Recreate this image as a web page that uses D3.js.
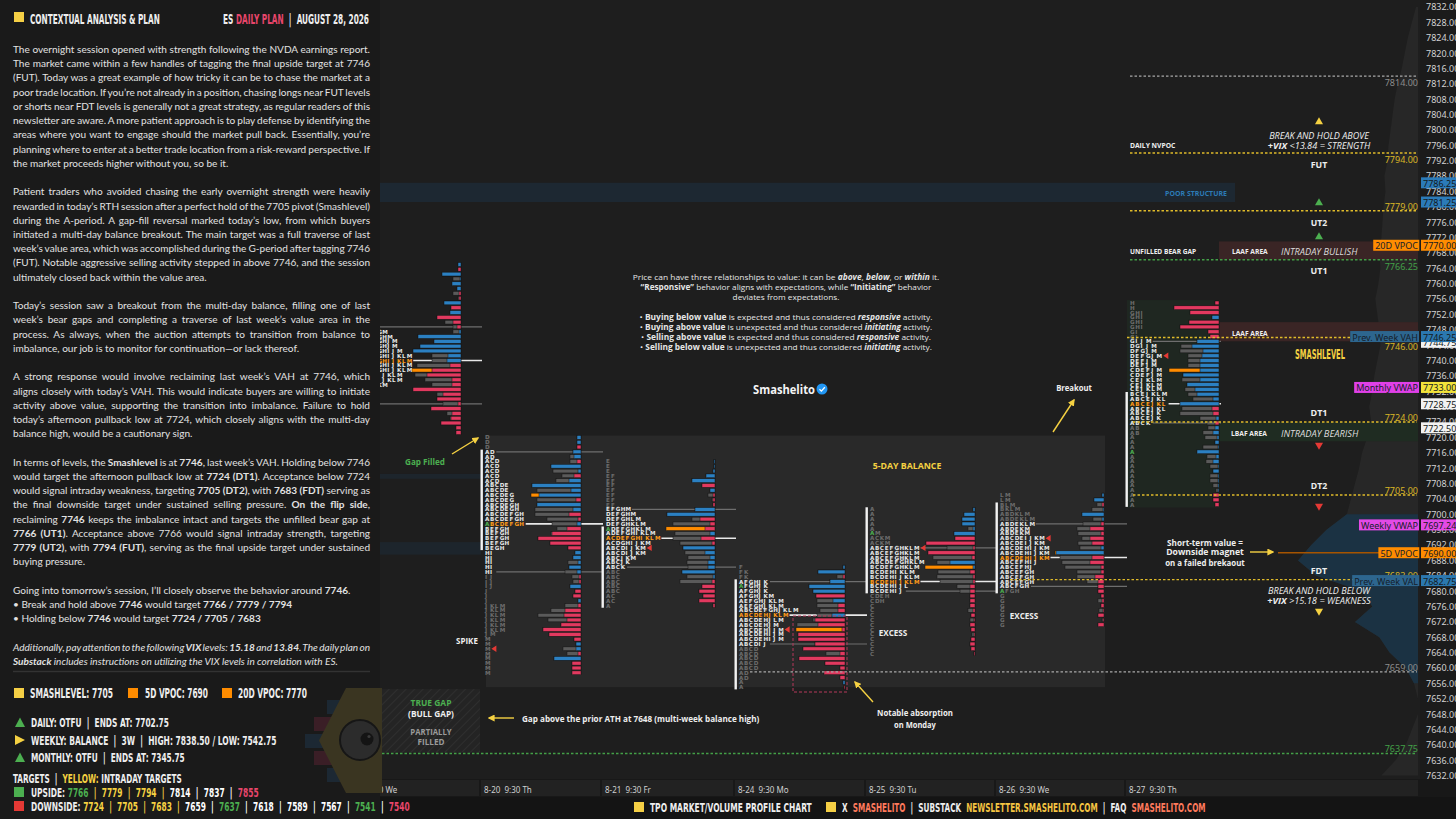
<!DOCTYPE html>
<html>
<head>
<meta charset="utf-8">
<script src="https://cdn.jsdelivr.net/npm/d3@7"></script>
<style>
  body { margin: 0; background: #1a1a1a; overflow: hidden; }
  svg { display: block; }
</style>
</head>
<body>
<svg id="chart" width="1456" height="819"></svg>
<script>
// ---------------- data ----------------
const sessions = ["8-19", "8-20", "8-21", "8-24", "8-25", "8-26", "8-27"];
const sessionDays = ["We", "Th", "Fr", "Mo", "Tu", "We", "Th"];
const tpoLetters = ["A", "B", "C", "D", "E", "F", "G", "H", "I", "J", "K", "L", "M"];
const rowSize = 1.25;

const sessionTop   = [7765, 7720, 7713.75, 7686.25, 7701.25, 7705, 7755];
const sessionPoc   = [7740, 7697.5, 7693.75, 7673.75, 7682.5, 7688.75, 7728.75];
const sessionVah   = [7748.75, 7716.25, 7701.25, 7682.5, 7691.25, 7697.5, 7745];
const sessionVal   = [7728.75, 7685, 7686.25, 7666.25, 7680, 7681.25, 7723.75];
const sessionOpen  = [null, 7697.5, 7696.25, 7681.25, 7695, 7680, 7716.25];
const sessionClose = [7732.5, 7665, 7691.25, 7670, 7691.25, 7693.75, 7741.25];

// period ranges [high, low], A..M
const ranges0819 = [[7765,7737.5],[7762.5,7735],[7760,7737.5],[7755,7731.25],[7752.5,7727.5],[7750,7723.75],[7747.5,7721.25],[7746.25,7735],[7742.5,7731.25],[7745,7733.75],[7741.25,7733.75],[7741.25,7735],[7747.5,7733.75]];
const ranges0820 = [[7716.25,7697.5],[7707.5,7691.25],[7713.75,7697.5],[7720,7697.5],[7707.5,7691.25],[7700,7692.5],[7705,7691.25],[7702.5,7685],[7690,7681.25],[7683.75,7668.75],[7676.25,7670],[7676.25,7670],[7676.25,7658.75]];
const ranges0821 = [[7696.25,7676.25],[7691.25,7680],[7693.75,7677.5],[7700,7690],[7713.75,7693.75],[7710,7693.75],[7701.25,7692.5],[7701.25,7692.5],[7695,7690],[7692.5,7687.5],[7697.5,7686.25],[7698.75,7693.75],[7701.25,7688.75]];
const ranges0824 = [[7682.5,7655],[7675,7660],[7675,7660],[7675,7657.5],[7677.5,7667.5],[7686.25,7675],[7682.5,7675],[7682.5,7667.5],[7670,7666.25],[7682.5,7666.25],[7685,7673.75],[7677.5,7672.5],[7678.75,7667.5]];
const ranges0825 = [[7701.25,7687.5],[7691.25,7680],[7693.75,7663.75],[7687.5,7677.5],[7691.25,7678.75],[7691.25,7686.25],[7691.25,7686.25],[7691.25,7677.5],[7685,7680],[7683.75,7680],[7693.75,7682.5],[7691.25,7681.25],[7695,7682.5]];
const ranges0826 = [[7700,7680],[7702.5,7681.25],[7693.75,7681.25],[7700,7688.75],[7698.75,7682.5],[7687.5,7680],[7685,7671.25],[7691.25,7680],[7693.75,7687.5],[7693.75,7686.25],[7701.25,7688.75],[7705,7697.5],[7705,7688.75]];
const ranges0827 = [[7730,7702.5],[7731.25,7721.25],[7737.5,7723.75],[7743.75,7736.25],[7741.25,7725],[7742.5,7736.25],[7752.5,7741.25],[7755,7748.75],[7752.5,7743.75],[7745,7725],[7735,7723.75],[7735,7727.5],[7745,7731.25]];

// volume per row (top to bottom) and delta per row
const vol0819 = [3,3,19,8,9,4,8,3,17,10,11,24,16,8,8,43,27,41,48,29,29,44,49,46,36,29,48,24,24,18,30,14,11,20,5,5];
const dlt0819 = [3,-3,19,1,9,4,-2,-2,17,-10,11,-24,-8,-4,2,43,27,41,48,13,14,-11,-29,-34,-9,-9,-48,-18,-24,-3,-30,-9,-10,-20,-5,-5];
const vol0820 = [4,4,4,8,11,11,30,28,19,25,49,44,50,44,44,46,46,34,29,24,30,43,31,13,6,8,13,12,16,9,8,11,6,8,3,16,30,43,33,20,38,32,7,5,18,14,27,9,9,9];
const dlt0820 = [4,4,-4,8,7,-4,30,3,-7,12,49,10,42,-5,44,8,-12,-3,4,-14,-29,-43,-31,-13,6,8,3,12,4,-2,-2,11,-6,-8,3,-3,-16,-17,-14,-20,-38,-32,-7,5,5,-3,27,-9,-9,-9];
const vol0821 = [1,1,2,9,23,13,5,7,3,2,20,48,23,42,49,40,42,35,32,30,27,28,27,33,28,35,13,16,12,16,2];
const dlt0821 = [1,1,2,9,23,-13,5,-2,-2,-2,20,48,-15,-5,-10,5,-14,-3,32,10,5,7,7,33,2,-3,-13,-16,-12,-16,-2];
const vol0824 = [2,27,8,15,36,32,29,28,28,25,28,32,48,49,47,47,30,42,19,46,20,5,21,5,2,1];
const dlt0824 = [2,27,-2,15,36,32,-29,12,-7,-7,13,-30,-27,-3,-47,-47,-30,-42,-5,-46,-20,-5,-21,-5,2,-1];
const vol0825 = [2,11,13,13,7,21,20,49,28,47,42,38,50,37,38,35,18,15,5,5,5,7,4,5,5,4,3,4,5,4,1];
const dlt0825 = [2,11,13,13,2,21,-20,-49,-2,-47,-3,25,2,-5,-2,-2,-5,-5,-5,-5,-5,-2,-4,-1,-5,-4,-1,-4,-5,-4,-1];
const vol0826 = [2,10,7,12,22,11,21,27,26,22,26,24,49,44,42,39,27,27,17,6,6,3,6,3,5,6,2,6];
const dlt0826 = [2,10,-2,1,22,2,-3,-14,-3,-14,-12,3,48,-12,-14,-3,-3,-9,-6,-6,-6,-3,-2,-3,-1,-6,-1,-6];
const vol0827 = [4,45,29,7,30,39,11,9,22,38,39,31,31,31,50,36,37,32,34,31,26,39,37,39,19,12,11,16,14,4,16,22,12,13,9,6,9,9,6,3,6,6,4];
const dlt0827 = [-4,-45,-29,7,-30,-39,-11,-9,22,27,16,17,19,19,19,36,19,32,24,22,6,39,-7,-6,3,-4,4,6,2,4,1,22,3,6,1,6,1,1,1,1,-6,-6,-4];

const sessionRanges = [ranges0819, ranges0820, ranges0821, ranges0824, ranges0825, ranges0826, ranges0827];
const sessionVol = [vol0819, vol0820, vol0821, vol0824, vol0825, vol0826, vol0827];
const sessionDelta = [dlt0819, dlt0820, dlt0821, dlt0824, dlt0825, dlt0826, dlt0827];

// composite volume profile (right side), 4-pt bins from top
const compPrices = [7832,7828,7824,7820,7816,7812,7808,7804,7800,7796,7792,7788,7784,7780,7776,7772,7768,7764,7760,7756,7752,7748,7744,7740,7736,7732,7728,7724,7720,7716,7712,7708,7704,7700,7696,7692,7688,7684,7680,7676,7672,7668,7664,7660,7656,7652,7648,7644,7640,7636,7632];
const compVol = [2,6,10,13,16,20,23,25,27,29,30,33,32,34,35,36,38,37,39,42,40,38,37,40,43,45,48,46,50,55,58,62,66,70,90,105,118,100,55,45,62,38,28,12,4,0,0,6,12,22,36];
const compValueArea = [7700, 7656];

// key levels
const levelPrices = [7814, 7794, 7779, 7766.25, 7746, 7724, 7705, 7683, 7659, 7637.75];
const levelKinds  = ["major", "target", "target", "gap", "target", "target", "target", "target", "major", "gap"];

// zones
const poorHigh = [7786.25, 7710.5, 7692.75];
const poorLow  = [7781.25, 7709.25, 7689.5];
const laafHigh = [7771, 7750];
const laafLow  = [7766.25, 7745];
const lbafHigh = [7724];
const lbafLow  = [7719];
const balanceRange = [7720.5, 7655];
const trueGapRange = [7654.5, 7638];
const vpoc5d = 7690;

// price axis marks
const markPrices = [7786.25, 7781.25, 7770, 7744.75, 7746.25, 7733, 7728.75, 7722.5, 7697.24, 7690, 7682.75];
const markKinds  = ["poor", "poor", "vpoc", "white", "pweek", "mvwap", "white", "white", "wvwap", "vpoc", "pweek"];
const markTags   = [null, null, "20D VPOC", null, "Prev. Week VAH", "Monthly VWAP", null, null, "Weekly VWAP", "5D VPOC", "Prev. Week VAL"];
const priceTicks = d3.range(7632, 7836, 4);

// targets
const upsideTargets   = [7766, 7779, 7794, 7814, 7837, 7855];
const upsideKinds     = ["gap", "intra", "intra", "std", "std", "final"];
const downsideTargets = [7724, 7705, 7683, 7659, 7637, 7618, 7589, 7567, 7541, 7540];
const downsideKinds   = ["intra", "intra", "intra", "std", "gap", "std", "std", "std", "gap", "final"];

// ---------------- layout ----------------
const W = 1456, H = 819;
const FC = "'Liberation Sans Narrow','DejaVu Sans Condensed',sans-serif";
const FB = "Lato,'Open Sans',sans-serif";
const FA = "'Open Sans','Noto Sans',sans-serif";
const FX = "'Noto Sans','Open Sans',sans-serif";
const YEL = "#f5d142", GRN = "#4caf50", PNK = "#e8466b", ORG = "#ff8c00";

const y = d3.scaleLinear().domain([7632, 7832]).range([775.6, 7]);
const dayX = d3.scaleOrdinal().domain(sessions).range([345, 482, 603, 736, 867, 997, 1127]);
const profileRight = d3.scaleOrdinal().domain(sessions).range([461, 581, 715, 845, 975, 1104, 1219]);
const letterGap = d3.scaleOrdinal().domain(sessions).range([4.9, 4.9, 4.9, 4.9, 4.9, 4.9, 5.3]);
const xVol = d3.scaleLinear().domain([0, 50]).range([0, 50]);
const xComp = d3.scaleLinear().domain([0, 120]).range([0, 122]);
const fmt = d3.format(".2f");

const svg = d3.select("#chart");
const defs = svg.append("defs");
defs.append("clipPath").attr("id", "plotClip")
  .append("rect").attr("x", 380).attr("y", 0).attr("width", 1040).attr("height", 779);
const pat = defs.append("pattern").attr("id", "hatch").attr("patternUnits", "userSpaceOnUse")
  .attr("width", 6).attr("height", 6).attr("patternTransform", "rotate(45)");
pat.append("rect").attr("width", 6).attr("height", 6).attr("fill", "#242424");
pat.append("line").attr("x1", 0).attr("y1", 0).attr("x2", 0).attr("y2", 6).attr("stroke", "#2f2f2f").attr("stroke-width", 2);
defs.append("marker").attr("id", "arrY").attr("viewBox", "0 0 10 10").attr("refX", 8).attr("refY", 5)
  .attr("markerWidth", 5).attr("markerHeight", 5).attr("orient", "auto")
  .append("path").attr("d", "M0,0L10,5L0,10Z").attr("fill", YEL);

function fit(node, w, x) {
  const bw = node.getBBox().width;
  if (!bw || !w) return;
  const k = w / bw;
  d3.select(node).attr("transform", `translate(${x},0) scale(${k},1) translate(${-x},0)`);
}
function addText(g, x, yy, parts, o) {
  o = o || {};
  const t = g.append("text").attr("x", x).attr("y", yy)
    .attr("font-family", o.ff || FA).attr("font-size", o.fs || 9)
    .attr("font-weight", o.fw || "bold")
    .attr("font-style", o.it ? "italic" : "normal")
    .attr("fill", o.fill || "#eeeeee")
    .attr("text-anchor", o.anchor || "start")
    .attr("dominant-baseline", "central")
    .style("white-space", "pre");
  if (typeof parts === "string") parts = [[parts]];
  parts.forEach(p => {
    const ts = t.append("tspan").text(p[0]);
    if (p[1]) ts.attr("fill", p[1]);
    if (p[2]) {
      if (p[2].b) ts.attr("font-weight", "bold");
      if (p[2].n) ts.attr("font-weight", "normal");
      if (p[2].i) ts.attr("font-style", "italic");
    }
  });
  if (o.w) fit(t.node(), o.w, x);
  return t;
}
function segs(str) {
  const out = [];
  const re = /(\*\*\*[^*]+\*\*\*|\*\*[^*]+\*\*|\*[^*]+\*)/g;
  let last = 0, m;
  while ((m = re.exec(str))) {
    if (m.index > last) out.push({ t: str.slice(last, m.index) });
    const s = m[0];
    if (s.startsWith("***")) out.push({ t: s.slice(3, -3), b: 1, i: 1 });
    else if (s.startsWith("**")) out.push({ t: s.slice(2, -2), b: 1 });
    else out.push({ t: s.slice(1, -1), i: 1 });
    last = m.index + s.length;
  }
  if (last < str.length) out.push({ t: str.slice(last) });
  return out;
}

// ---------------- backgrounds ----------------
svg.append("rect").attr("width", W).attr("height", H).attr("fill", "#1a1a1a");
svg.append("rect").attr("x", 380).attr("y", 0).attr("width", 1040).attr("height", 779).attr("fill", "#1e1e1e");
svg.append("rect").attr("x", 1420).attr("y", 0).attr("width", 36).attr("height", 779).attr("fill", "#1b1b1b");

const plot = svg.append("g").attr("clip-path", "url(#plotClip)");

// poor structure bands
const poorX = [[380, 1235], [380, 481], [380, 481]];
poorHigh.forEach((hi, i) => {
  plot.append("rect").attr("x", poorX[i][0]).attr("width", poorX[i][1] - poorX[i][0])
    .attr("y", y(hi)).attr("height", y(poorLow[i]) - y(hi)).attr("fill", i === 0 ? "#1d2832" : "#1d252c");
});

// 5-day balance box
plot.append("rect").attr("x", dayX("8-20") + 4).attr("width", 1105 - dayX("8-20") - 4)
  .attr("y", y(balanceRange[0])).attr("height", y(balanceRange[1]) - y(balanceRange[0])).attr("fill", "#292929");

// composite profile
const comp = compPrices.map((p, i) => ({ p, v: compVol[i] }));
const compArea = d3.area().y(d => y(d.p)).x0(1418).x1(d => 1418 - xComp(d.v));
plot.append("path").datum(comp).attr("d", compArea).attr("fill", "#272727");
plot.append("path").datum(comp.filter(d => d.p <= compValueArea[0] && d.p >= compValueArea[1]))
  .attr("d", compArea).attr("fill", "#1b3243");

// current session tint
const lastIdx = sessions.length - 1;
const lastLow = sessionTop[lastIdx] - (sessionVol[lastIdx].length - 1) * rowSize;
plot.append("rect").attr("x", dayX("8-27")).attr("width", profileRight("8-27") + 1 - dayX("8-27"))
  .attr("y", y(sessionTop[lastIdx] + 0.75)).attr("height", y(lastLow - 0.75) - y(sessionTop[lastIdx] + 0.75))
  .attr("fill", "#1f2721");

// LAAF / LBAF bands
laafHigh.forEach((hi, i) => {
  plot.append("rect").attr("x", 1219).attr("width", 199).attr("y", y(hi))
    .attr("height", y(laafLow[i]) - y(hi)).attr("fill", "#3a2525");
});
lbafHigh.forEach((hi, i) => {
  plot.append("rect").attr("x", 1219).attr("width", 199).attr("y", y(hi))
    .attr("height", y(lbafLow[i]) - y(hi)).attr("fill", "#1f2c22");
});

// true gap box
plot.append("rect").attr("x", 382).attr("width", 98).attr("y", y(trueGapRange[0]))
  .attr("height", y(trueGapRange[1]) - y(trueGapRange[0])).attr("fill", "url(#hatch)");

// ---------------- sessions ----------------
sessions.forEach((s, si) => {
  const top = sessionTop[si];
  const ranges = sessionRanges[si];
  const vol = sessionVol[si], dlt = sessionDelta[si];
  const tx0 = dayX(s) + 3;
  const step = letterGap(s);
  const right = profileRight(s);
  const nextX = si < lastIdx ? dayX(sessions[si + 1]) : right + 2;
  const maxVol = d3.max(vol);
  const rows = vol.map((v, r) => {
    const p = top - r * rowSize;
    const letters = tpoLetters.filter((l, k) => ranges[k][1] <= p && p <= ranges[k][0]);
    return { r, p, letters, v, d: dlt[r] };
  });
  const g = plot.append("g");

  // VA and POC lines
  [[sessionVah[si], "#6e6e6e", 1.2], [sessionVal[si], "#6e6e6e", 1.2], [sessionPoc[si], "#e8e8e8", 1.6]].forEach(([p, c, sw]) => {
    const row = rows.find(d => d.p === p);
    const x1 = tx0 + row.letters.length * step + 1.5;
    g.append("line").attr("x1", x1).attr("x2", nextX).attr("y1", y(p)).attr("y2", y(p))
      .attr("stroke", c).attr("stroke-width", sw);
  });

  // volume bars then delta bars
  g.selectAll(".vol").data(rows).join("rect")
    .attr("x", d => right - xVol(d.v)).attr("width", d => xVol(d.v))
    .attr("y", d => y(d.p) - 1.9).attr("height", 3.8)
    .attr("fill", d => d.v === maxVol ? ORG : "#5a5a5a")
    .attr("stroke", "#141414").attr("stroke-width", 0.5);
  g.selectAll(".dlt").data(rows.filter(d => d.d !== 0)).join("rect")
    .attr("x", d => right - xVol(Math.abs(d.d))).attr("width", d => xVol(Math.abs(d.d)))
    .attr("y", d => y(d.p) - 1.9).attr("height", 3.8)
    .attr("fill", d => d.d > 0 ? "#2b80c2" : "#e2395f")
    .attr("stroke", "#141414").attr("stroke-width", 0.5);

  // TPO letters
  rows.forEach(row => {
    const inVA = row.p <= sessionVah[si] && row.p >= sessionVal[si];
    const col = row.p === sessionPoc[si] ? "#ff9a1a" : (inVA ? "#e6e6e6" : "#6c6c6c");
    row.letters.forEach((l, k) => {
      const isOpen = sessionOpen[si] === row.p && l === "A";
      g.append("text").attr("x", tx0 + k * step).attr("y", y(row.p))
        .attr("dominant-baseline", "central").attr("font-family", "'DejaVu Sans',sans-serif")
        .attr("font-size", 5.6).attr("font-weight", "bold")
        .attr("fill", isOpen ? GRN : col).text(l);
    });
  });

  // close marker
  const crow = rows.find(d => d.p === sessionClose[si]);
  const cx = tx0 + crow.letters.length * step + 1.5, cy = y(crow.p);
  g.append("path").attr("d", `M${cx},${cy}L${cx + 5},${cy - 3.2}L${cx + 5},${cy + 3.2}Z`).attr("fill", "#e53935");

  // initial balance (A + B range)
  const ibHi = Math.max(ranges[0][0], ranges[1][0]), ibLo = Math.min(ranges[0][1], ranges[1][1]);
  g.append("rect").attr("x", dayX(s) - 1.5).attr("width", 2.4)
    .attr("y", y(ibHi) - 2.2).attr("height", y(ibLo) - y(ibHi) + 4.4).attr("fill", "#f2f2f2");
});

// 5D VPOC line
plot.append("line").attr("x1", 1278).attr("x2", 1386).attr("y1", y(vpoc5d)).attr("y2", y(vpoc5d))
  .attr("stroke", "#a65400").attr("stroke-width", 1.6);

// ---------------- key levels ----------------
const levelColor = { major: "#a8a8a8", target: "#e0bb2a", gap: "#43a047" };
const levelTextColor = { major: "#8c8c8c", target: "#d9b526", gap: "#43a047" };
const levelX0 = [1130, 1130, 1130, 1130, 1127, 1133, 1133, 1010, 750, 382];
const levelLabelDy = [6, 6, -5, 6, 9, -5, -5, -5, -5, -6];
levelPrices.forEach((p, i) => {
  const k = levelKinds[i];
  plot.append("line").attr("x1", levelX0[i]).attr("x2", 1417).attr("y1", y(p)).attr("y2", y(p))
    .attr("stroke", levelColor[k]).attr("stroke-width", 1.4).attr("stroke-dasharray", "2.5,2");
  addText(svg, 1418, y(p) + levelLabelDy[i], fmt(p), { ff: FX, fs: 9, fw: "normal", fill: levelTextColor[k], anchor: "end" });
});

// ---------------- annotations ----------------
const ann = svg.append("g");
function arrow(x1, y1, x2, y2) {
  ann.append("line").attr("x1", x1).attr("y1", y1).attr("x2", x2).attr("y2", y2)
    .attr("stroke", YEL).attr("stroke-width", 1.4).attr("marker-end", "url(#arrY)");
}
addText(ann, 425, 461, "Gap Filled", { fill: GRN, fs: 8.5, w: 40, anchor: "middle" });
arrow(452, 454, 478, 438);
addText(ann, 467, 640, "SPIKE", { fs: 8.5, w: 22, anchor: "middle" });
addText(ann, 907, 466, "5-DAY BALANCE", { fill: YEL, fs: 8.5, w: 69, anchor: "middle" });
addText(ann, 893, 632, "EXCESS", { fs: 8.5, w: 29, anchor: "middle" });
addText(ann, 1024, 615, "EXCESS", { fs: 8.5, w: 29, anchor: "middle" });
addText(ann, 1074, 387, "Breakout", { fs: 8.5, w: 36, anchor: "middle" });
arrow(1053, 432, 1074, 400);
addText(ann, 915, 712, "Notable absorption", { fs: 8.5, w: 76, anchor: "middle" });
addText(ann, 915, 724, "on Monday", { fs: 8.5, w: 42, anchor: "middle" });
arrow(873, 702, 855, 682);
ann.append("rect").attr("x", 793).attr("y", 616).attr("width", 54).attr("height", 76)
  .attr("fill", "none").attr("stroke", "#b5385a").attr("stroke-width", 1).attr("stroke-dasharray", "3,2");
addText(ann, 522, 718, "Gap above the prior ATH at 7648 (multi-week balance high)", { fs: 8.5, w: 238 });
arrow(514, 718, 489, 718);
addText(ann, 431, 702, "TRUE GAP", { fill: GRN, fs: 8.5, w: 41, anchor: "middle" });
addText(ann, 431, 713, "(BULL GAP)", { fs: 8.5, w: 46, anchor: "middle" });
addText(ann, 431, 731, "PARTIALLY", { fill: "#9a9a9a", fs: 8.5, w: 42, anchor: "middle" });
addText(ann, 431, 741, "FILLED", { fill: "#9a9a9a", fs: 8.5, w: 27, anchor: "middle" });

// center explainer
const explainer = [
  "Price can have three relationships to value: it can be ***above***, ***below***, or ***within*** it.",
  "**\u201cResponsive\u201d** behavior aligns with expectations, while **\u201cInitiating\u201d** behavior",
  "deviates from expectations.",
  "",
  "\u2022 **Buying below value** is expected and thus considered ***responsive*** activity.",
  "\u2022 **Buying above value** is unexpected and thus considered ***initiating*** activity.",
  "\u2022 **Selling above value** is expected and thus considered ***responsive*** activity.",
  "\u2022 **Selling below value** is unexpected and thus considered ***initiating*** activity."
];
const explainerW = [307, 292, 107, 0, 293, 293, 290, 292];
explainer.forEach((line, i) => {
  if (!line) return;
  const parts = segs(line).map(s => [s.t, null, { b: s.b, n: !s.b, i: s.i }]);
  addText(ann, 786, 276 + i * 10, parts, { fs: 8, fw: "normal", fill: "#e6e6e6", anchor: "middle", w: explainerW[i] });
});
addText(ann, 784, 389, "Smashelito", { fs: 12, w: 62, anchor: "middle", fill: "#f4f4f4" });
ann.append("circle").attr("cx", 822).attr("cy", 389).attr("r", 5.5).attr("fill", "#2196f3");
ann.append("path").attr("d", "M819.5,389.2L821.4,391.1L824.8,387.3").attr("fill", "none")
  .attr("stroke", "#fff").attr("stroke-width", 1.3);

// right side plan labels
addText(ann, 1130, 145, "DAILY NVPOC", { fs: 7, w: 46 });
addText(ann, 1130, 251, "UNFILLED BEAR GAP", { fs: 7, w: 67 });
addText(ann, 1232, 251, "LAAF AREA", { fs: 7, w: 36 });
addText(ann, 1232, 333, "LAAF AREA", { fs: 7, w: 36 });
addText(ann, 1231, 433, "LBAF AREA", { fs: 7, w: 36 });
addText(ann, 1281, 251, "INTRADAY BULLISH", { fs: 9.5, fw: "normal", it: true, w: 77, fill: "#dddddd" });
addText(ann, 1281, 433, "INTRADAY BEARISH", { fs: 9.5, fw: "normal", it: true, w: 78, fill: "#dddddd" });
addText(ann, 1196, 193, "POOR STRUCTURE", { fs: 7.5, w: 62, fill: "#2c7bb6", anchor: "middle" });
addText(ann, 1319, 135, "BREAK AND HOLD ABOVE", { fs: 9.5, fw: "normal", it: true, w: 101, anchor: "middle" });
addText(ann, 1319, 145, [["+VIX", null, { b: 1 }], [" <13.84 = STRENGTH"]], { fs: 9.5, fw: "normal", it: true, w: 103, anchor: "middle" });
addText(ann, 1319, 590, "BREAK AND HOLD BELOW", { fs: 9.5, fw: "normal", it: true, w: 103, anchor: "middle" });
addText(ann, 1319, 600, [["+VIX", null, { b: 1 }], [" >15.18 = WEAKNESS"]], { fs: 9.5, fw: "normal", it: true, w: 104, anchor: "middle" });
[["FUT", 164], ["UT2", 222], ["UT1", 270], ["DT1", 412], ["DT2", 485], ["FDT", 570]].forEach(([t, yy]) => {
  addText(ann, 1319, yy, t, { fs: 9.5, w: 17, anchor: "middle" });
});
addText(ann, 1320, 354, "SMASHLEVEL", { ff: FC, fs: 14, fill: YEL, w: 50, anchor: "middle" });
const tri = d3.symbol().type(d3.symbolTriangle).size(28);
[[1319, 122, YEL, 0], [1319, 203, GRN, 0], [1319, 237, GRN, 0], [1319, 445, "#e53935", 180], [1319, 506, "#e53935", 180], [1319, 611, YEL, 180]]
  .forEach(([x, yy, c, r]) => {
    ann.append("path").attr("d", tri).attr("fill", c).attr("transform", `translate(${x},${yy}) rotate(${r})`);
  });
addText(ann, 1205, 542, "Short-term value =", { fs: 8.5, w: 76, anchor: "middle" });
addText(ann, 1205, 552, "Downside magnet", { fs: 8.5, w: 78, anchor: "middle" });
addText(ann, 1205, 562, "on a failed brekaout", { fs: 8.5, w: 80, anchor: "middle" });
arrow(1250, 552, 1273, 552);

// ---------------- price axis ----------------
const axisG = svg.append("g").attr("transform", "translate(1424,0)")
  .call(d3.axisRight(y).tickValues(priceTicks).tickFormat(fmt).tickSize(0).tickPadding(2));
axisG.select(".domain").remove();
axisG.selectAll("text").attr("font-family", FX).attr("font-size", 9).attr("fill", "#d2d2d2");

const markBg = { poor: "#2b7bb9", vpoc: ORG, pweek: "#2b78b0", white: "#f2f2f2", mvwap: "#f2e33a", wvwap: "#e34ae6" };
const tagBg = { vpoc: ORG, pweek: "#2d668f", mvwap: "#e040e8", wvwap: "#e34ae6" };
const marks = svg.append("g");
markPrices.forEach((p, i) => {
  const k = markKinds[i], yy = y(p);
  if (markTags[i]) {
    const t = addText(marks, 1418, yy, markTags[i], { ff: FX, fs: 9, fw: "normal", fill: "#15202a", anchor: "end" });
    const bb = t.node().getBBox();
    marks.insert("rect", () => t.node()).attr("x", bb.x - 2).attr("y", yy - 5.5).attr("width", bb.width + 3)
      .attr("height", 11).attr("fill", tagBg[k]);
  }
  marks.append("rect").attr("x", 1421).attr("y", yy - 5.5).attr("width", 35).attr("height", 11).attr("fill", markBg[k]);
  addText(marks, 1423, yy, fmt(p), { ff: FX, fs: 9, fw: "normal", fill: "#141a20" });
});

// ---------------- time axis & footer ----------------
svg.append("rect").attr("x", 380).attr("y", 779).attr("width", 1076).attr("height", 18).attr("fill", "#181818");
defs.append("clipPath").attr("id", "timeClip").append("rect").attr("x", 380).attr("y", 779).attr("width", 1076).attr("height", 18);
const timeG = svg.append("g").attr("clip-path", "url(#timeClip)");
sessions.forEach((s, i) => {
  const x0 = dayX(s) - 1;
  const x1 = i < lastIdx ? dayX(sessions[i + 1]) - 3 : 1418;
  timeG.append("rect").attr("x", x0).attr("y", 780).attr("width", x1 - x0).attr("height", 16).attr("fill", "#222222");
  addText(timeG, dayX(s) + 2, 788.5, `${s}  9:30 ${sessionDays[i]}`, { ff: FX, fs: 8, fw: "normal", fill: "#d0d0d0" });
});
svg.append("rect").attr("x", 380).attr("y", 797).attr("width", 1076).attr("height", 22).attr("fill", "#141414");
svg.append("rect").attr("x", 634).attr("y", 802).attr("width", 10).attr("height", 10).attr("fill", "#f5cf45");
svg.append("rect").attr("x", 826).attr("y", 802).attr("width", 10).attr("height", 10).attr("fill", "#f5cf45");
addText(svg, 650, 807.5, "TPO MARKET/VOLUME PROFILE CHART", { ff: FC, fs: 12.5, w: 162 });
addText(svg, 842, 807.5, [["X  "], ["SMASHELITO", "#ff7a5c"], ["  |  "], ["SUBSTACK  "], ["NEWSLETTER.SMASHELITO.COM", "#f5c542"], ["  |  "], ["FAQ  "], ["SMASHELITO.COM", "#ff7a5c"]],
  { ff: FC, fs: 12.5, w: 364 });

// ---------------- left panel ----------------
const left = svg.append("g");
left.append("rect").attr("x", 14).attr("y", 12).attr("width", 10).attr("height", 10).attr("fill", "#f5cf45");
addText(left, 30, 19.5, "CONTEXTUAL ANALYSIS & PLAN", { ff: FC, fs: 14.5, w: 130 });
addText(left, 369, 19.5, [["ES "], ["DAILY PLAN", PNK], ["  |  "], ["AUGUST 28, 2026"]], { ff: FC, fs: 14.5, w: 146, anchor: "end" });

const textBlocks = [
  { justify: true, lines: [
    "The overnight session opened with strength following the NVDA earnings report.",
    "The market came within a few handles of tagging the final upside target at 7746",
    "(FUT). Today was a great example of how tricky it can be to chase the market at a",
    "poor trade location. If you\u2019re not already in a position, chasing longs near FUT levels",
    "or shorts near FDT levels is generally not a great strategy, as regular readers of this",
    "newsletter are aware. A more patient approach is to play defense by identifying the",
    "areas where you want to engage should the market pull back. Essentially, you\u2019re",
    "planning where to enter at a better trade location from a risk-reward perspective. If",
    "the market proceeds higher without you, so be it."] },
  { justify: true, lines: [
    "Patient traders who avoided chasing the early overnight strength were heavily",
    "rewarded in today\u2019s RTH session after a perfect hold of the 7705 pivot (Smashlevel)",
    "during the A-period. A gap-fill reversal marked today\u2019s low, from which buyers",
    "initiated a multi-day balance breakout. The main target was a full traverse of last",
    "week\u2019s value area, which was accomplished during the G-period after tagging 7746",
    "(FUT). Notable aggressive selling activity stepped in above 7746, and the session",
    "ultimately closed back within the value area."] },
  { justify: true, lines: [
    "Today\u2019s session saw a breakout from the multi-day balance, filling one of last",
    "week\u2019s bear gaps and completing a traverse of last week\u2019s value area in the",
    "process. As always, when the auction attempts to transition from balance to",
    "imbalance, our job is to monitor for continuation\u2014or lack thereof."] },
  { justify: true, lines: [
    "A strong response would involve reclaiming last week\u2019s VAH at 7746, which",
    "aligns closely with today\u2019s VAH. This would indicate buyers are willing to initiate",
    "activity above value, supporting the transition into imbalance. Failure to hold",
    "today\u2019s afternoon pullback low at 7724, which closely aligns with the multi-day",
    "balance high, would be a cautionary sign."] },
  { justify: true, lines: [
    "In terms of levels, the **Smashlevel** is at **7746**, last week\u2019s VAH. Holding below 7746",
    "would target the afternoon pullback low at **7724 (DT1)**. Acceptance below 7724",
    "would signal intraday weakness, targeting **7705 (DT2)**, with **7683 (FDT)** serving as",
    "the final downside target under sustained selling pressure. **On the flip side**,",
    "reclaiming **7746** keeps the imbalance intact and targets the unfilled bear gap at",
    "**7766 (UT1)**. Acceptance above 7766 would signal intraday strength, targeting",
    "**7779 (UT2)**, with **7794 (FUT)**, serving as the final upside target under sustained",
    "buying pressure."] },
  { justify: false, lines: [
    "Going into tomorrow\u2019s session, I\u2019ll closely observe the behavior around **7746**.",
    "\u2022 Break and hold above **7746** would target **7766 / 7779 / 7794**",
    "\u2022 Holding below **7746** would target **7724 / 7705 / 7683**"] },
  { justify: true, italic: true, lines: [
    "Additionally, pay attention to the following **VIX** levels: **15.18** and **13.84**. The daily plan on",
    "**Substack** includes instructions on utilizing the VIX levels in correlation with ES."] }
];

function bodyLine(g, x, yy, str, fs, italic) {
  const t = g.append("text").attr("x", x).attr("y", yy).attr("font-family", FB).attr("font-size", fs)
    .attr("fill", "#e2e2e2").attr("dominant-baseline", "central").attr("font-style", italic ? "italic" : "normal");
  segs(str).forEach(s => t.append("tspan").attr("font-weight", s.b ? 700 : 400).text(s.t));
  return t;
}
const probe = bodyLine(svg, 0, -50, textBlocks[5].lines[0], 10, false);
const bodySize = 10 * 338 / probe.node().getComputedTextLength();
probe.remove();

let lineIdx = 0;
textBlocks.forEach(block => {
  block.lines.forEach((line, li) => {
    const t = bodyLine(left, 13, 49 + lineIdx * 14.23, line, bodySize, block.italic);
    const last = li === block.lines.length - 1;
    if (block.justify && !last) {
      const w0 = t.node().getComputedTextLength();
      const plain = segs(line).map(s => s.t).join("");
      const nSp = (plain.match(/ /g) || []).length;
      if (nSp) t.attr("word-spacing", (357 - w0) / nSp);
      const w1 = t.node().getComputedTextLength();
      if (Math.abs(w1 - 357) > 2) t.attr("word-spacing", null).attr("textLength", 357).attr("lengthAdjust", "spacing");
    }
    lineIdx++;
  });
  lineIdx++;
});
left.append("line").attr("x1", 13).attr("x2", 370).attr("y1", 671.5).attr("y2", 671.5).attr("stroke", "#333").attr("stroke-width", 1.5);

// logo (decorative)
const logo = left.append("g");
[[327, 700, 18, 14, "#1c2833"], [314, 717, 20, 14, "#3a1e26"], [305, 734, 20, 14, "#1c2833"], [314, 751, 20, 14, "#3a1e26"], [327, 768, 18, 14, "#1c2833"]]
  .forEach(([x, yy, w, h, c]) => logo.append("rect").attr("x", x).attr("y", yy).attr("width", w).attr("height", h).attr("fill", c));
logo.append("path").attr("d", "M346,688L382,688L382,793L346,793L319,740.5Z").attr("fill", "#3a3521");
logo.append("circle").attr("cx", 360).attr("cy", 740).attr("r", 20).attr("fill", "#2c2c2c").attr("stroke", "#161616").attr("stroke-width", 2);
logo.append("circle").attr("cx", 367).attr("cy", 739).attr("r", 6.5).attr("fill", "#141414");
logo.append("circle").attr("cx", 369).attr("cy", 736.5).attr("r", 1.6).attr("fill", "#3a3a3a");

// legend
left.append("rect").attr("x", 14).attr("y", 688).attr("width", 10).attr("height", 10).attr("fill", "#f5cf45");
left.append("rect").attr("x", 128).attr("y", 688).attr("width", 10).attr("height", 10).attr("fill", ORG);
left.append("rect").attr("x", 222).attr("y", 688).attr("width", 10).attr("height", 10).attr("fill", ORG);
addText(left, 30, 693.5, "SMASHLEVEL: 7705", { ff: FC, fs: 13.5, w: 83 });
addText(left, 145, 693.5, "5D VPOC: 7690", { ff: FC, fs: 13.5, w: 63 });
addText(left, 238, 693.5, "20D VPOC: 7770", { ff: FC, fs: 13.5, w: 69 });
left.append("path").attr("d", "M15,727L20,717.5L25,727Z").attr("fill", GRN);
left.append("path").attr("d", "M15,735L25,740L15,745Z").attr("fill", YEL);
left.append("path").attr("d", "M15,762L20,752.5L25,762Z").attr("fill", GRN);
addText(left, 31, 722.5, "DAILY: OTFU  |  ENDS AT: 7702.75", { ff: FC, fs: 12.5, w: 138 });
addText(left, 31, 740, "WEEKLY: BALANCE  |  3W  |  HIGH: 7838.50 / LOW: 7542.75", { ff: FC, fs: 12.5, w: 246 });
addText(left, 31, 757.5, "MONTHLY: OTFU  |  ENDS AT: 7345.75", { ff: FC, fs: 12.5, w: 154 });
addText(left, 13, 778.5, [["TARGETS  |  "], ["YELLOW:", YEL], [" INTRADAY TARGETS"]], { ff: FC, fs: 12.5, w: 169 });

const kindColor = { gap: GRN, intra: YEL, std: "#ffffff", final: PNK };
function targetParts(label, vals, kinds) {
  const parts = [[label + " "]];
  vals.forEach((v, i) => {
    if (i > 0) {
      const c = kinds[i - 1] === "intra" || kinds[i] === "intra" ? YEL : "#ffffff";
      parts.push(["  |  ", c]);
    }
    parts.push([String(v), kindColor[kinds[i]]]);
  });
  return parts;
}
left.append("rect").attr("x", 14).attr("y", 787).attr("width", 10).attr("height", 10).attr("fill", GRN);
left.append("rect").attr("x", 14).attr("y", 801).attr("width", 10).attr("height", 10).attr("fill", "#e53935");
addText(left, 31, 792.5, targetParts("UPSIDE:", upsideTargets, upsideKinds), { ff: FC, fs: 12.5, w: 228 });
addText(left, 31, 806.5, targetParts("DOWNSIDE:", downsideTargets, downsideKinds), { ff: FC, fs: 12.5, w: 379 });
</script>
</body>
</html>
